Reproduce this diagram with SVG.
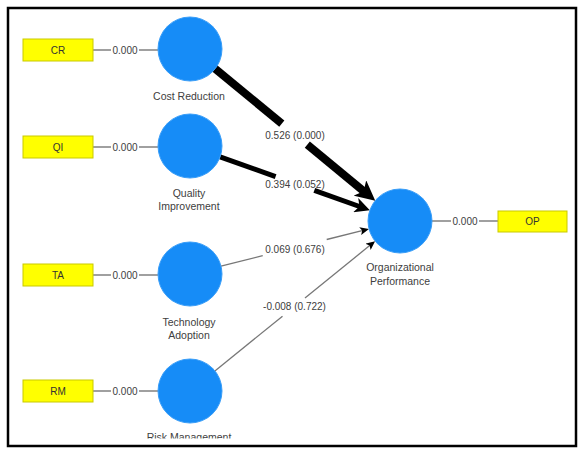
<svg xmlns="http://www.w3.org/2000/svg" width="583" height="453" viewBox="0 0 583 453">
<style>
  .frame{fill:#fff;stroke:#000;stroke-width:2.5}
  .lv{fill:#168cf7;stroke:#3a9ef8;stroke-width:1}
  .mv{fill:#ffff00;stroke:#c9c900;stroke-width:1}
  .mvt{font-family:"Liberation Sans",Arial,sans-serif;font-size:10px;fill:#333;text-anchor:middle}
  .lbl{font-family:"Liberation Sans",Arial,sans-serif;font-size:10.5px;fill:#404040;text-anchor:middle}
  .num{font-family:"Liberation Sans",Arial,sans-serif;font-size:10px;fill:#404040;text-anchor:middle}
  .ind{stroke:#808080;stroke-width:1.5;fill:none}
  .thick{stroke:#000;stroke-width:8;fill:none}
  .med{stroke:#000;stroke-width:5;fill:none}
  .thin{stroke:#777;stroke-width:1.3;fill:none}
</style>
<defs>
  <marker id="ahBig" markerUnits="userSpaceOnUse" markerWidth="20" markerHeight="20" refX="8" refY="10" orient="auto">
    <path d="M0,0 L20,10 L0,20 L5,10 z" fill="#000"/>
  </marker>
  <marker id="ahMed" markerUnits="userSpaceOnUse" markerWidth="15" markerHeight="15" refX="7" refY="7.5" orient="auto">
    <path d="M0,0 L15,7.5 L0,15 L4,7.5 z" fill="#000"/>
  </marker>
  <marker id="ahSmall" markerUnits="userSpaceOnUse" markerWidth="9" markerHeight="8" refX="4" refY="4" orient="auto">
    <path d="M0,0 L9,4 L0,8 L2,4 z" fill="#000"/>
  </marker>
  <clipPath id="clipBottom"><rect x="0" y="0" width="583" height="438.5"/></clipPath>
</defs>

<rect class="frame" x="8" y="8" width="568" height="438"/>

<g id="connectors">
  <!-- CR -> OP -->
  <line class="thick" x1="214.7" y1="68.4" x2="281.8" y2="123.7"/>
  <line class="thick" x1="307.3" y1="144.7" x2="366.0" y2="193.1" marker-end="url(#ahBig)"/>
  <text class="num" x="295" y="139">0.526 (0.000)</text>
  <!-- QI -> OP -->
  <line class="med" x1="220.1" y1="156.8" x2="275.6" y2="176.6"/>
  <line class="med" x1="314.3" y1="190.4" x2="362.3" y2="207.5" marker-end="url(#ahMed)"/>
  <text class="num" x="295" y="187.5">0.394 (0.052)</text>
  <!-- TA -> OP -->
  <line class="thin" x1="221" y1="266.2" x2="262.7" y2="255.7"/>
  <line class="thin" x1="326.7" y1="239.5" x2="364.1" y2="230.1" marker-end="url(#ahSmall)"/>
  <text class="num" x="295" y="252.5">0.069 (0.676)</text>
  <!-- RM -> OP -->
  <line class="thin" x1="214.9" y1="370.9" x2="282.5" y2="316.2"/>
  <line class="thin" x1="305.0" y1="298.1" x2="371.2" y2="244.3" marker-end="url(#ahSmall)"/>
  <text class="num" x="294.5" y="309.5">-0.008 (0.722)</text>

  <!-- indicator links -->
  <line class="ind" x1="93" y1="50" x2="111" y2="50"/>
  <line class="ind" x1="139" y1="50" x2="158" y2="50"/>
  <text class="num" x="125" y="53.5">0.000</text>
  <line class="ind" x1="93" y1="147" x2="111" y2="147"/>
  <line class="ind" x1="139" y1="147" x2="158" y2="147"/>
  <text class="num" x="125" y="150.5">0.000</text>
  <line class="ind" x1="93" y1="275" x2="111" y2="275"/>
  <line class="ind" x1="139" y1="275" x2="158" y2="275"/>
  <text class="num" x="125" y="278.5">0.000</text>
  <line class="ind" x1="93" y1="391" x2="111" y2="391"/>
  <line class="ind" x1="139" y1="391" x2="158" y2="391"/>
  <text class="num" x="125" y="394.5">0.000</text>
  <line class="ind" x1="432" y1="221" x2="451" y2="221"/>
  <line class="ind" x1="479" y1="221" x2="498" y2="221"/>
  <text class="num" x="465" y="224.5">0.000</text>
</g>

<g id="node-CR-ind">
  <rect class="mv" x="23" y="39" width="70" height="22"/>
  <text class="mvt" x="58" y="53.5">CR</text>
</g>
<g id="node-QI-ind">
  <rect class="mv" x="23" y="136" width="70" height="22"/>
  <text class="mvt" x="58" y="150.5">QI</text>
</g>
<g id="node-TA-ind">
  <rect class="mv" x="23" y="264" width="70" height="22"/>
  <text class="mvt" x="58" y="278.5">TA</text>
</g>
<g id="node-RM-ind">
  <rect class="mv" x="23" y="380" width="70" height="22"/>
  <text class="mvt" x="58" y="394.5">RM</text>
</g>
<g id="node-OP-ind">
  <rect class="mv" x="498" y="211" width="69" height="21"/>
  <text class="mvt" x="532.5" y="225">OP</text>
</g>

<g id="node-CostReduction">
  <circle class="lv" cx="190" cy="49" r="32"/>
  <text class="lbl" x="189" y="100">Cost Reduction</text>
</g>
<g id="node-QualityImprovement">
  <circle class="lv" cx="190" cy="146" r="32"/>
  <text class="lbl" x="189" y="197">Quality</text>
  <text class="lbl" x="189" y="210">Improvement</text>
</g>
<g id="node-TechnologyAdoption">
  <circle class="lv" cx="190" cy="274" r="32"/>
  <text class="lbl" x="189" y="326">Technology</text>
  <text class="lbl" x="189" y="339">Adoption</text>
</g>
<g id="node-RiskManagement">
  <circle class="lv" cx="190" cy="391" r="32"/>
  <text class="lbl" x="189" y="441" clip-path="url(#clipBottom)">Risk Management</text>
</g>
<g id="node-OrganizationalPerformance">
  <circle class="lv" cx="400" cy="221" r="32"/>
  <text class="lbl" x="400" y="271">Organizational</text>
  <text class="lbl" x="400" y="285">Performance</text>
</g>
</svg>
